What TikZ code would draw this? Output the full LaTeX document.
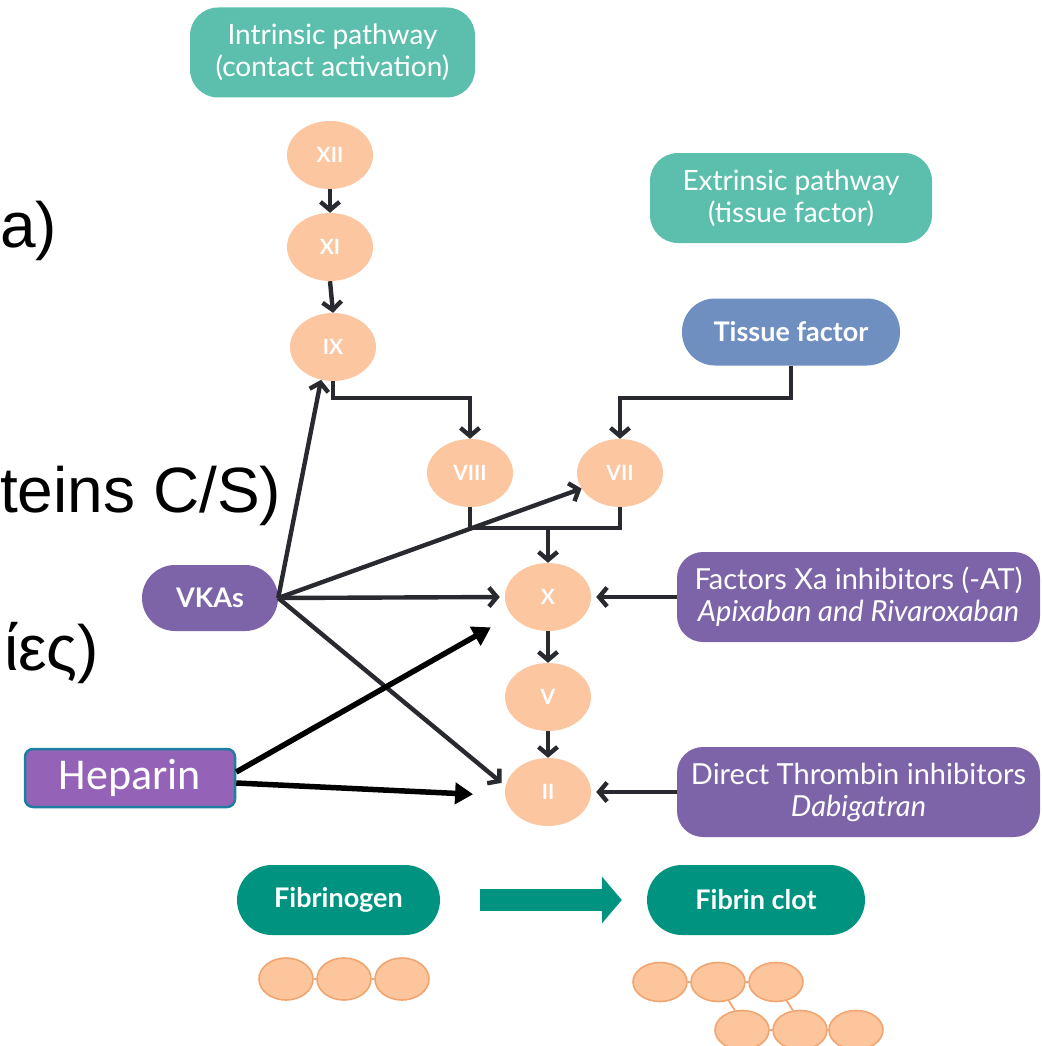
\documentclass[tikz,border=0pt]{standalone}
\usepackage{fontspec}
\setmainfont{Lato}
\newfontfamily\arialf{Liberation Sans}
\newfontfamily\calib{Carlito}
\usetikzlibrary{arrows.meta,shapes.geometric,calc}
\definecolor{teal1}{RGB}{92,191,173}
\definecolor{tfblue}{RGB}{111,143,192}
\definecolor{purp}{RGB}{125,100,168}
\definecolor{hepfill}{RGB}{148,99,183}
\definecolor{hepbord}{RGB}{30,125,160}
\definecolor{peach}{RGB}{252,198,160}
\definecolor{darkteal}{RGB}{0,148,128}
\definecolor{arrowc}{RGB}{40,42,48}
\definecolor{molfill}{RGB}{253,197,156}
\definecolor{molline}{RGB}{240,165,112}
\begin{document}
\begin{tikzpicture}[x=1pt,y=-1pt,
  box/.style={inner sep=0pt, text=white, align=center, font=\fontsize{28}{32}\selectfont},
  bbox/.style={inner sep=0pt, text=white, align=center, font=\fontsize{27}{30}\selectfont\bfseries},
  fac/.style={ellipse, fill=peach, minimum width=86pt, minimum height=68pt, inner sep=0pt, text=white, font=\fontsize{21}{21}\selectfont\bfseries},
  arr/.style={draw=arrowc, line width=4.4pt, -{Straight Barb[length=8pt,width=19pt]}},
  plainline/.style={draw=arrowc, line width=4.4pt},
  heparr/.style={draw=black, line width=5.5pt, -{Triangle[length=18pt,width=21pt]}},
  mol/.style={ellipse, fill=molfill, draw=molline, line width=1.6pt, minimum width=54pt, minimum height=39pt, inner sep=0pt},
  mollink/.style={draw=molline, line width=1.8pt},
  bigtxt/.style={inner sep=0pt, font=\arialf\fontsize{64}{64}\selectfont}
]
\useasboundingbox (0,0) rectangle (1042,1046);

% left cropped texts
\node[bigtxt, anchor=base west] (ta) at (0,247) {a)};
\node[bigtxt, anchor=base east] (tb) at (281.3,512) {teins C/S)};
\node[bigtxt, anchor=base east] (tc) at (99.3,670) {ίες)};

% pathway boxes
\node[box, fill=teal1, minimum width=285pt, minimum height=90pt, rounded corners=28pt] (intr) at (332.5,52.5) {Intrinsic pathway\\(contact activation)};
\node[box, fill=teal1, minimum width=282pt, minimum height=90pt, rounded corners=28pt] (extr) at (791,198) {Extrinsic pathway\\(tissue factor)};
\node[bbox, fill=tfblue, minimum width=218pt, minimum height=67pt, rounded corners=33pt] (tf) at (791,332) {Tissue factor};

% factors
\node[fac] (xii) at (330,155) {XII};
\node[fac] (xi) at (330,247) {XI};
\node[fac] (ix) at (333,347) {IX};
\node[fac] (viii) at (470,473) {VIII};
\node[fac] (vii) at (620,473) {VII};
\node[fac] (x) at (548,597) {X};
\node[fac] (v) at (548,697) {V};
\node[fac] (ii) at (548,792) {II};

% drugs
\node[bbox, fill=purp, minimum width=136pt, minimum height=66pt, rounded corners=33pt] (vkas) at (210,598) {VKAs};
\node[box, fill=purp, minimum width=363pt, minimum height=90pt, rounded corners=26pt, font=\fontsize{29}{32}\selectfont] (xa) at (858.5,597) {Factors Xa inhibitors (-AT)\\\itshape Apixaban and Rivaroxaban};
\node[box, fill=purp, minimum width=363pt, minimum height=90pt, rounded corners=26pt, font=\fontsize{29}{32}\selectfont] (dti) at (858.5,792) {Direct Thrombin inhibitors\\\itshape Dabigatran};
\node[inner sep=0pt, fill=hepfill, draw=hepbord, line width=2.5pt, rounded corners=8pt, minimum width=210pt, minimum height=58pt, text=white, font=\calib\fontsize{44}{44}\selectfont] (hep) at (130,778) {Heparin};

% fibrin
\node[bbox, fill=darkteal, minimum width=203pt, minimum height=70pt, rounded corners=35pt] (fibg) at (338.5,900) {Fibrinogen};
\node[bbox, fill=darkteal, minimum width=218pt, minimum height=70pt, rounded corners=35pt] (fibc) at (756,900) {Fibrin clot};
\draw[darkteal, line width=22pt, shorten <=40pt, shorten >=25pt, -{Triangle[length=20pt,width=46pt]}] (fibg) -- (fibc);

% cascade connectors
\draw[arr] (xii.south) -- (xi.north);
\draw[arr] (xi.south) -- (ix.north);
\draw[arr] (ix.south) -- ++(0,17) -| (viii.north);
\draw[arr] (tf.south) -- ++(0,32) -| (vii.north);
\draw[plainline] (viii.south) -- ++(0,21) coordinate (j1) -| (vii.south);
\coordinate (j) at (x.north |- j1);
\draw[arr] (j) -- (x.north);
\draw[arr] (x.south) -- (v.north);
\draw[arr] (v.south) -- (ii.north);

% VKAs
\draw[arr] (vkas.east) -- (ix.250);
\draw[arr] (vkas.east) -- (vii.202);
\draw[arr, shorten >=5pt] (vkas.east) -- (x.west);
\draw[arr, shorten >=5pt] (vkas.east) -- (ii.172);

% inhibitors
\draw[arr, shorten >=5pt] (xa.west) -- (x.east);
\draw[arr, shorten >=5pt] (dti.west) -- (ii.east);

% heparin
\draw[heparr, shorten >=24pt] ([yshift=6pt]hep.east) -- (x.207);
\draw[heparr, shorten >=32pt] ([yshift=-5pt]hep.east) -- (ii.185);

% molecules
\node[mol, minimum height=42pt] (f1) at (286,979) {};
\node[mol, minimum height=42pt] (f2) at (344,979) {};
\node[mol, minimum height=42pt] (f3) at (402,979) {};
\draw[mollink] (f1.east) -- (f2.west);
\draw[mollink] (f2.east) -- (f3.west);

\node[mol] (c1) at (660,982) {};
\node[mol] (c2) at (718,982) {};
\node[mol] (c3) at (776,982) {};
\node[mol] (c4) at (742,1030) {};
\node[mol] (c5) at (800,1030) {};
\node[mol] (c6) at (856,1030) {};
\draw[mollink] (c1.east) -- (c2.west);
\draw[mollink] (c2.east) -- (c3.west);
\draw[mollink] (c4.east) -- (c5.west);
\draw[mollink] (c5.east) -- (c6.west);
\draw[mollink] (c2.300) -- (c4.110);
\draw[mollink] (c3.300) -- (c5.110);
\end{tikzpicture}
\end{document}
